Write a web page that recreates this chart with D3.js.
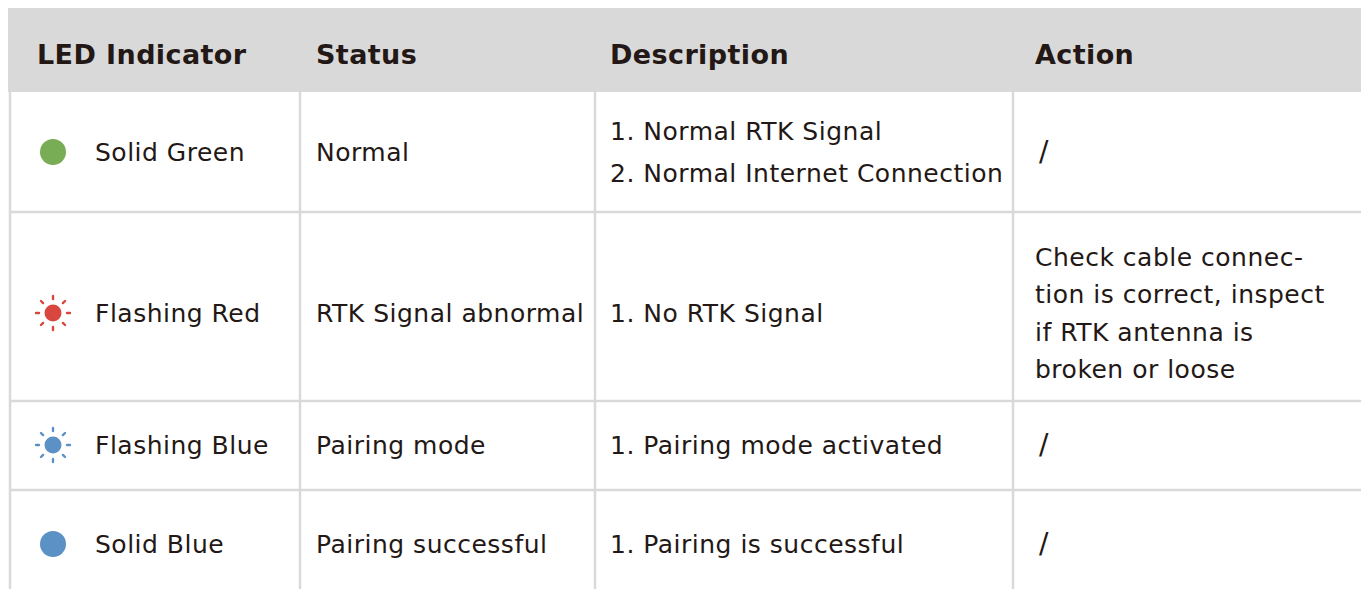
<!DOCTYPE html>
<html><head><meta charset="utf-8">
<script src="https://cdn.jsdelivr.net/npm/d3@7"></script>
<style>html,body{margin:0;padding:0;background:#fff;overflow:hidden}</style>
</head><body>
<svg id="c" width="1361" height="589"></svg>
<script>
const headers = ["LED Indicator", "Status", "Description", "Action"];
const indicators = ["Solid Green", "Flashing Red", "Flashing Blue", "Solid Blue"];
const ledColors = ["#79ad55", "#d9453f", "#5b91c4", "#5b91c4"];
const ledFlashing = [false, true, true, false];
const statuses = ["Normal", "RTK Signal abnormal", "Pairing mode", "Pairing successful"];
const descriptions = [["1. Normal RTK Signal", "2. Normal Internet Connection"], ["1. No RTK Signal"], ["1. Pairing mode activated"], ["1. Pairing is successful"]];
const actions = [["/"], ["Check cable connec-", "tion is correct, inspect", "if RTK antenna is", "broken or loose"], ["/"], ["/"]];

const svg = d3.select("#c");
const font = "'DejaVu Sans', sans-serif";
const textColor = "#231815";
const lineColor = "#d9d9d9";
const colX = [10, 300, 595, 1013, 1361];
const rowY = [92, 212, 401, 490, 600];
const rowCenters = [152, 313, 445, 544];
const headerTop = 8;

svg.append("rect").attr("x", 8).attr("y", headerTop).attr("width", 1361).attr("height", 92 - headerTop).attr("fill", lineColor);

const textX = [37, 316, 610, 1035];
svg.selectAll("text.h").data(headers).join("text").attr("class", "h")
  .attr("x", (d, i) => textX[i]).attr("y", 64)
  .attr("font-family", font).attr("font-weight", 700).attr("font-size", 27)
  .attr("letter-spacing", 0.4)
  .attr("fill", textColor).text(d => d);

svg.selectAll("line.v").data(colX.slice(0, 4)).join("line").attr("class", "v")
  .attr("x1", d => d).attr("x2", d => d).attr("y1", 92).attr("y2", 589)
  .attr("stroke", lineColor).attr("stroke-width", 2.5);
svg.selectAll("line.r").data(rowY.slice(1, 4)).join("line").attr("class", "r")
  .attr("x1", 10).attr("x2", 1361).attr("y1", d => d).attr("y2", d => d)
  .attr("stroke", lineColor).attr("stroke-width", 2.5);

const rows = indicators.map((d, i) => ({
  ind: d, color: ledColors[i], flash: ledFlashing[i], status: statuses[i],
  desc: descriptions[i], act: actions[i], cy: rowCenters[i]
}));

const lh = 37.5;
const g = svg.selectAll("g.row").data(rows).join("g").attr("class", "row");

g.each(function (d) {
  const sel = d3.select(this);
  const cx = 53;
  if (d.flash) {
    sel.append("circle").attr("cx", cx).attr("cy", d.cy).attr("r", 8.5).attr("fill", d.color);
    d3.range(8).forEach(k => {
      const a = k * Math.PI / 4;
      sel.append("line")
        .attr("x1", cx + Math.cos(a) * 14).attr("y1", d.cy + Math.sin(a) * 14)
        .attr("x2", cx + Math.cos(a) * 17).attr("y2", d.cy + Math.sin(a) * 17)
        .attr("stroke", d.color).attr("stroke-width", 2.4).attr("stroke-linecap", "round");
    });
  } else {
    sel.append("circle").attr("cx", cx).attr("cy", d.cy).attr("r", 13).attr("fill", d.color);
  }
  const txt = (x, lines, size) => {
    const n = lines.length;
    lines.forEach((t, j) => {
      sel.append("text").attr("x", x).attr("y", d.cy + (j - (n - 1) / 2) * (n > 2 ? lh : 42) + 9)
        .attr("font-family", font).attr("font-size", size || 25).attr("letter-spacing", 0.5)
        .attr("fill", textColor).text(t);
    });
  };
  txt(95, [d.ind]);
  txt(316, [d.status]);
  txt(610, d.desc);
  if (d.act.length > 1) txt(1035, d.act);
  else txt(1039, d.act, 28);
});
</script>
</body></html>
